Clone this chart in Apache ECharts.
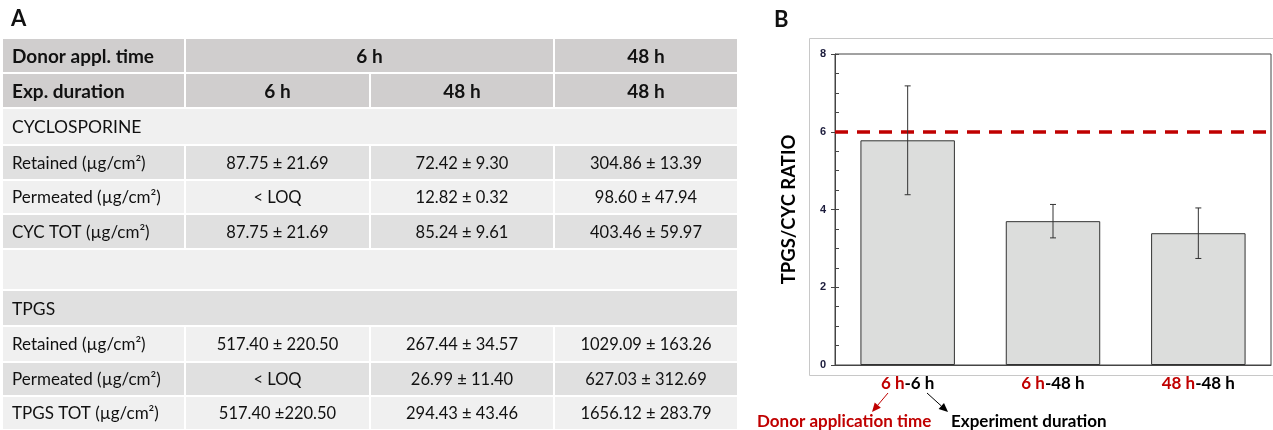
<!DOCTYPE html>
<html>
<head>
<meta charset="utf-8">
<script src="https://cdn.jsdelivr.net/npm/echarts@6/dist/echarts.min.js"></script>
<style>
  html, body { margin: 0; padding: 0; background: #fff; }
  #main { width: 1273px; height: 430px; }
</style>
</head>
<body>
<div id="main"></div>
<script>
// ---- Panel A: permeation table ----
const donorTimeHeader = ['Donor appl. time', '6 h', '48 h'];
const expDurationHeader = ['Exp. duration', '6 h', '48 h', '48 h'];
const cycSection = 'CYCLOSPORINE';
const tpgsSection = 'TPGS';
const cycRowLabels = ['Retained (µg/cm²)', 'Permeated (µg/cm²)', 'CYC TOT (µg/cm²)'];
const cycValues6h6h = ['87.75 ± 21.69', '< LOQ', '87.75 ± 21.69'];
const cycValues6h48h = ['72.42 ± 9.30', '12.82 ± 0.32', '85.24 ± 9.61'];
const cycValues48h48h = ['304.86 ± 13.39', '98.60 ± 47.94', '403.46 ± 59.97'];
const tpgsRowLabels = ['Retained (µg/cm²)', 'Permeated (µg/cm²)', 'TPGS TOT (µg/cm²)'];
const tpgsValues6h6h = ['517.40 ± 220.50', '< LOQ', '517.40 ±220.50'];
const tpgsValues6h48h = ['267.44 ± 34.57', '26.99 ± 11.40', '294.43 ± 43.46'];
const tpgsValues48h48h = ['1029.09 ± 163.26', '627.03 ± 312.69', '1656.12 ± 283.79'];

// ---- Panel B: TPGS/CYC ratio ----
const donorTimes = ['6 h', '6 h', '48 h'];
const expDurations = ['6 h', '48 h', '48 h'];
const ratioMeans = [5.78, 3.70, 3.39];
const ratioErrors = [1.40, 0.43, 0.65];
const referenceRatio = 6;
const yTicks = [0, 2, 4, 6, 8];

const categories = donorTimes.map((d, i) => d + '-' + expDurations[i]);

const FONT = 'Lato, "Open Sans", sans-serif';
const HEAD_BG = '#d0cece';
const DARK_BG = '#e0e0e0';
const LIGHT_BG = '#f0f0f0';
const TEXT = '#111111';

// table geometry
const colX = [2, 185, 370, 554, 738];
const rowH = [35, 35, 37, 35, 34, 35, 41, 36, 36, 34, 34];
const tableTop = 38;

function rowTop(i) {
  let y = tableTop;
  for (let k = 0; k < i; k++) y += rowH[k];
  return y;
}

function cellRect(x0, x1, r, fill) {
  return {
    type: 'rect', silent: true,
    shape: { x: x0, y: rowTop(r), width: x1 - x0, height: rowH[r] },
    style: { fill: fill, stroke: '#ffffff', lineWidth: 2 }
  };
}
function cellText(txt, x, r, opts) {
  opts = opts || {};
  return {
    type: 'text', silent: true,
    style: {
      text: txt, x: x, y: rowTop(r) + rowH[r] / 2 + 1,
      font: (opts.bold ? 'bold ' : '') + (opts.size || 16.5) + 'px ' + FONT,
      fill: TEXT,
      align: opts.align || 'center', textAlign: opts.align || 'center',
      verticalAlign: 'middle', textVerticalAlign: 'middle'
    }
  };
}
function mid(a, b) { return (a + b) / 2; }

const HEAD_SIZE = 19;
const table = [];
// header row 1
table.push(cellRect(colX[0], colX[1], 0, HEAD_BG));
table.push(cellRect(colX[1], colX[3], 0, HEAD_BG));
table.push(cellRect(colX[3], colX[4], 0, HEAD_BG));
table.push(cellText(donorTimeHeader[0], 12, 0, { bold: true, size: HEAD_SIZE, align: 'left' }));
table.push(cellText(donorTimeHeader[1], mid(colX[1], colX[3]), 0, { bold: true, size: HEAD_SIZE }));
table.push(cellText(donorTimeHeader[2], mid(colX[3], colX[4]), 0, { bold: true, size: HEAD_SIZE }));
// header row 2
for (let c = 0; c < 4; c++) {
  table.push(cellRect(colX[c], colX[c + 1], 1, HEAD_BG));
  table.push(cellText(expDurationHeader[c], c === 0 ? 12 : mid(colX[c], colX[c + 1]), 1,
    { bold: true, size: HEAD_SIZE, align: c === 0 ? 'left' : 'center' }));
}

function sectionBlock(startRow, title, titleBg, labels, v1, v2, v3, bgs) {
  table.push(cellRect(colX[0], colX[4], startRow, titleBg));
  table.push(cellText(title, 12, startRow, { size: 17.5, align: 'left' }));
  const cols = [v1, v2, v3];
  labels.forEach((lab, i) => {
    const r = startRow + 1 + i;
    for (let c = 0; c < 4; c++) table.push(cellRect(colX[c], colX[c + 1], r, bgs[i]));
    table.push(cellText(lab, 12, r, { size: 17, align: 'left' }));
    cols.forEach((vals, c) => {
      table.push(cellText(vals[i], mid(colX[c + 1], colX[c + 2]), r, { size: 16.5 }));
    });
  });
}
sectionBlock(2, cycSection, LIGHT_BG, cycRowLabels, cycValues6h6h, cycValues6h48h, cycValues48h48h,
  [DARK_BG, LIGHT_BG, DARK_BG]);
// blank spacer row
table.push(cellRect(colX[0], colX[4], 6, LIGHT_BG));
sectionBlock(7, tpgsSection, DARK_BG, tpgsRowLabels, tpgsValues6h6h, tpgsValues6h48h, tpgsValues48h48h,
  [LIGHT_BG, DARK_BG, LIGHT_BG]);

// annotation arrow below the x axis labels
function arrow(x1, y1, x2, y2, color) {
  const ang = Math.atan2(y2 - y1, x2 - x1);
  const L = 9, W = 4;
  const bx = x2 - L * Math.cos(ang), by = y2 - L * Math.sin(ang);
  const px = -Math.sin(ang) * W, py = Math.cos(ang) * W;
  return [
    { type: 'line', silent: true, shape: { x1: x1, y1: y1, x2: bx, y2: by },
      style: { stroke: color, lineWidth: 1 } },
    { type: 'polygon', silent: true,
      shape: { points: [[x2, y2], [bx + px, by + py], [bx - px, by - py]] },
      style: { fill: color } }
  ];
}

const RED = '#c00000';

const graphics = [
  { type: 'text', silent: true, style: { text: 'A', x: 11, y: 19, font: 'bold 22px ' + FONT, fill: '#111',
      verticalAlign: 'middle', textVerticalAlign: 'middle' } },
  { type: 'text', silent: true, style: { text: 'B', x: 774, y: 20, font: 'bold 22px ' + FONT, fill: '#111',
      verticalAlign: 'middle', textVerticalAlign: 'middle' } },
  { type: 'rect', silent: true, shape: { x: 809.5, y: 38.5, width: 480, height: 337 },
    style: { fill: 'none', stroke: '#c8c8c8', lineWidth: 1 } },
  { type: 'text', silent: true, style: { text: 'Donor application time', x: 757, y: 422,
      font: 'bold 17px ' + FONT, fill: RED, verticalAlign: 'middle', textVerticalAlign: 'middle' } },
  { type: 'text', silent: true, style: { text: 'Experiment duration', x: 951, y: 422,
      font: 'bold 17px ' + FONT, fill: '#000', verticalAlign: 'middle', textVerticalAlign: 'middle' } }
].concat(arrow(888, 393, 872, 412, RED), arrow(927, 393, 948, 412, '#000'), table);

const chart = echarts.init(document.getElementById('main'), null, { renderer: 'canvas' });

chart.setOption({
  animation: false,
  backgroundColor: '#ffffff',
  graphic: { elements: graphics },
  grid: { left: 835, top: 54, width: 436, height: 311, show: true,
    borderColor: '#444', borderWidth: 1, backgroundColor: 'transparent' },
  xAxis: {
    type: 'category', data: categories,
    axisLine: { lineStyle: { color: '#444', width: 1 } },
    axisTick: { inside: true, length: 5, lineStyle: { color: '#444' } },
    axisLabel: {
      margin: 10, interval: 0,
      formatter: (v, i) => '{r|' + donorTimes[i] + '}{k|-' + expDurations[i] + '}',
      rich: {
        r: { color: RED, fontFamily: FONT, fontWeight: 'bold', fontSize: 17 },
        k: { color: '#000', fontFamily: FONT, fontWeight: 'bold', fontSize: 17 }
      }
    }
  },
  yAxis: [
    {
      type: 'value', min: 0, max: 8, interval: 2,
      name: 'TPGS/CYC RATIO', nameLocation: 'middle', nameGap: 36, nameRotate: 90,
      nameTextStyle: { fontFamily: FONT, fontWeight: 'bold', fontSize: 18.5, color: '#000' },
      axisLine: { show: true, lineStyle: { color: '#444' } },
      axisTick: { show: true, inside: false, length: 4, lineStyle: { color: '#444' } },
      axisLabel: { margin: 9, fontFamily: 'Arial, "Liberation Sans", sans-serif', fontWeight: 'bold',
        fontSize: 11, color: '#1c1c3c',
        formatter: v => (yTicks.indexOf(v) >= 0 ? String(v) : '') },
      splitLine: { show: false }
    },
    {
      type: 'value', min: 0, max: 8, interval: 0.5, position: 'left',
      axisLine: { show: false },
      axisTick: { show: true, inside: true, length: 4, lineStyle: { color: '#444' } },
      axisLabel: { show: false },
      splitLine: { show: false }
    }
  ],
  series: [
    {
      type: 'bar', data: ratioMeans, barWidth: '65%', yAxisIndex: 0,
      itemStyle: { color: '#dcdddc', borderColor: '#333', borderWidth: 1 },
      markLine: {
        silent: true, symbol: 'none', label: { show: false },
        lineStyle: { color: RED, width: 3.5, type: [13, 9] },
        data: [{ yAxis: referenceRatio }]
      },
      z: 2
    },
    {
      type: 'custom', yAxisIndex: 0, z: 5,
      data: ratioMeans.map((m, i) => [i, m - ratioErrors[i], m + ratioErrors[i]]),
      renderItem: (params, api) => {
        const x = api.value(0);
        const lo = api.coord([x, api.value(1)]);
        const hi = api.coord([x, api.value(2)]);
        const cap = 3;
        const st = { stroke: '#333', lineWidth: 1 };
        return {
          type: 'group',
          children: [
            { type: 'line', shape: { x1: hi[0], y1: hi[1], x2: lo[0], y2: lo[1] }, style: st },
            { type: 'line', shape: { x1: hi[0] - cap, y1: hi[1], x2: hi[0] + cap, y2: hi[1] }, style: st },
            { type: 'line', shape: { x1: lo[0] - cap, y1: lo[1], x2: lo[0] + cap, y2: lo[1] }, style: st }
          ]
        };
      }
    }
  ]
});
</script>
</body>
</html>
